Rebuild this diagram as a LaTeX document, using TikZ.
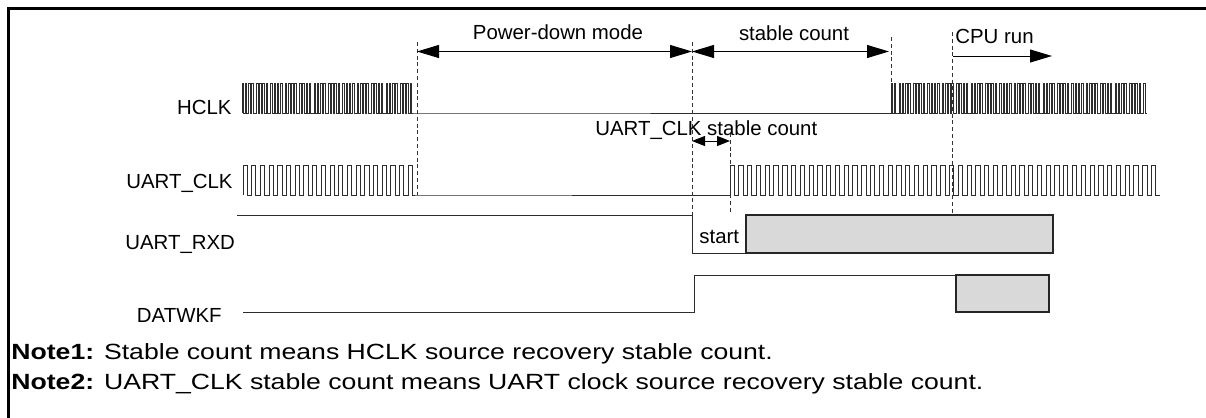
\documentclass[tikz,border=0pt]{standalone}
\usepackage{fontspec}
\setmainfont{Liberation Sans}
\newfontfamily\notefont{Liberation Sans}[FakeStretch=1.21]
\usepackage{tikz}
\usetikzlibrary{arrows.meta,positioning}
\usepackage{xcolor}
\definecolor{boxgray}{RGB}{217,217,217}
\definecolor{wave}{RGB}{45,45,45}

\begin{document}
\begin{tikzpicture}[x=0.5pt,y=-0.5pt, every node/.style={font=\fontsize{10.2pt}{12pt}\selectfont,inner sep=0pt}, sig/.style={draw=wave,line width=0.45pt}, guide/.style={draw=black!80,line width=0.45pt,dash pattern=on 2pt off 1.4pt}, span/.style={line width=0.5pt,{Triangle[length=11pt,width=6.5pt]}-{Triangle[length=11pt,width=6.5pt]}}, run/.style={line width=0.5pt,-{Triangle[length=11pt,width=6.5pt]}}, tiny span/.style={line width=0.5pt,{Triangle[length=6.5pt,width=5pt]}-{Triangle[length=6.5pt,width=5pt]}}, busy/.style={draw=black!85,fill=boxgray,line width=0.6pt}, note/.style={anchor=base west,font=\notefont\fontsize{11pt}{13pt}\selectfont}]
\useasboundingbox (0,0) rectangle (1206,418);
% frame
\draw[line width=1.35pt] (8.7,418) -- (8.7,8.7) -- (1206,8.7);

% signal names
\node[anchor=base east] (hclk) at (232,114) {HCLK};
\node[anchor=base east] (uclk) at (233,188) {UART\_CLK};
\node[anchor=base west] (rxd) at (125,249) {UART\_RXD};
\node[anchor=base east] (wkf) at (222,322) {DATWKF};

% guides
\draw[guide] (417,42) -- (417,195);
\draw[guide] (692,42) -- (692,215);
\draw[guide] (730,133) -- (730,213);
\draw[guide] (891,37) -- (891,113);
\draw[guide] (952,32) -- (952,215);

% spans
\coordinate (pdL) at (417,51.5);
\coordinate (pdR) at (692,51.5);
\coordinate (scR) at (889,51.5);
\coordinate (cpuL) at (953,56);
\coordinate (cpuR) at (1052,56);
\coordinate (ucL) at (692,141);
\coordinate (ucR) at (730,141);
\draw[span] (pdL) -- (pdR);
\draw[span] (pdR) -- (scR);
\draw[run] (cpuL) -- (cpuR);
\draw[tiny span] (ucL) -- (ucR);
\node[anchor=base] (pd) at (558,39.5) {Power-down mode};
\node[anchor=base] (sc) at (794,40) {stable count};
\node[anchor=base west] (cpu) at (955,43) {CPU run};
\node[anchor=base west] (ucsc) at (595,135) {UART\_CLK stable count};

% HCLK
\draw[sig] (242,113) \foreach \i in {1,...,48} { -- ++(0,-30) -- ++(1.6,0) -- ++(0,30) -- ++({ifthenelse(mod(\i,4)==0,3.2,1.6)},0) } -- (891,113) \foreach \i in {1,...,71} { -- ++(0,-30) -- ++(1.6,0) -- ++(0,30) -- ++({ifthenelse(mod(\i,4)==2,3.2,1.6)},0) };

% UART_CLK
\draw[sig] (243,195) \foreach \i in {1,...,20} { -- ++(0,-30) -- ++(4.2,0) -- ++(0,30) -- ++(4.5,0) } -- (730,195) \foreach \i in {1,...,49} { -- ++(0,-30) -- ++(4.3,0) -- ++(0,30) -- ++(4.48,0) };

% UART_RXD
\draw[sig] (237,215) -- (692,215) -- (692,253) -- (746,253);
\draw[busy] (746,215) rectangle (1053,253);
\node[anchor=base west] (start) at (699,243) {start};

% DATWKF
\draw[sig] (243,312) -- (694,312) -- (694,275) -- (956,275);
\draw[busy] (956,275) rectangle (1049,312);

% notes
\node[note] (n1) at (11,359) {\textbf{Note1:} Stable count means HCLK source recovery stable count.};
\node[note] (n2) at (11,389) {\textbf{Note2:} UART\_CLK stable count means UART clock source recovery stable count.};
\end{tikzpicture}
\end{document}
